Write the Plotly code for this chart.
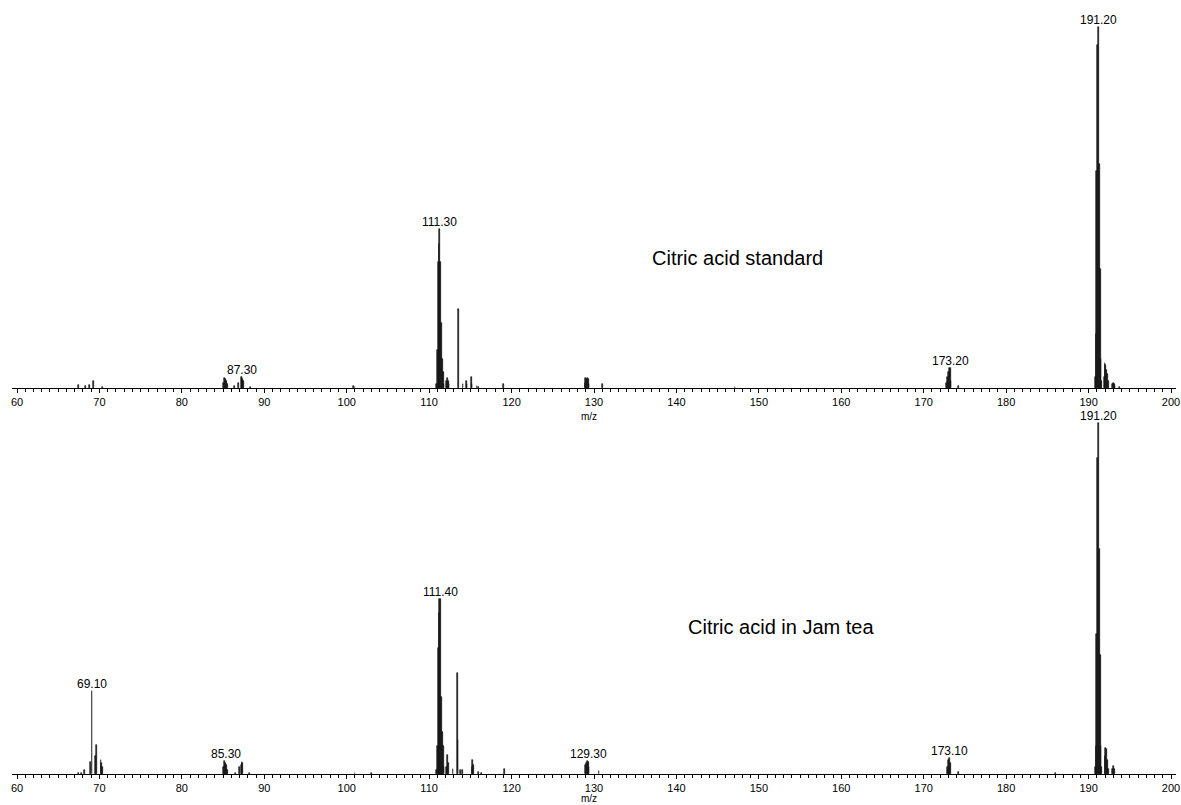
import plotly.graph_objects as go

# ---------------- data ----------------
std_mz = [67.5, 68.3, 68.8, 69.3, 70.4,
          85.1, 85.2, 85.3, 85.4, 85.5, 86.4, 86.9, 87.2, 87.3, 87.4, 87.5, 88.3,
          100.8, 101.0,
          110.9, 111.0, 111.1, 111.2, 111.3, 111.4, 111.5, 111.6, 111.7, 111.8,
          112.1, 112.2, 112.3, 112.4, 113.6,
          114.1, 114.5, 114.6, 115.1, 115.2, 115.8, 116.0, 119.0,
          128.9, 129.0, 129.1, 129.2, 129.3, 129.4, 131.0, 147.1,
          172.8, 172.9, 173.0, 173.1, 173.2, 173.3, 174.2,
          190.8, 190.9, 191.0, 191.1, 191.2, 191.3, 191.4, 191.5, 191.6,
          191.9, 192.0, 192.1, 192.2, 192.3, 192.4, 192.9, 193.0, 193.1, 193.2, 193.8]
std_int = [0.8, 0.6, 0.8, 2.0, 0.3,
           1.5, 2.8, 2.5, 2.0, 1.0, 0.5, 1.4, 3.0, 3.1, 2.5, 2.0, 0.4,
           0.5, 0.4,
           1.0, 10.5, 35, 40, 44, 35, 18, 8, 4.4, 1.0,
           2.0, 2.8, 2.0, 1.0, 22,
           1.0, 2.0, 1.0, 3.0, 1.0, 0.5, 0.4, 1.0,
           1.5, 2.8, 2.5, 2.8, 2.5, 1.0, 1.0, 0.4,
           1.5, 3.0, 4.5, 5.5, 5.5, 2.0, 0.6,
           3, 15, 60, 95, 100, 62, 33, 8, 2,
           3, 7, 6.5, 5, 4, 2, 1, 1.4, 1, 0.5, 0.3]
std_labels = [87.3, 111.3, 173.2, 191.2]

jam_mz = [67.5, 67.8, 68.2, 68.9, 69.1, 69.5, 69.6, 70.2, 70.3, 70.4,
          85.1, 85.2, 85.3, 85.4, 85.5, 86.5, 87.0, 87.2, 87.3, 87.4, 88.2,
          101.0, 103.0,
          110.9, 111.0, 111.1, 111.2, 111.3, 111.4, 111.5, 111.6, 111.7, 111.8,
          112.1, 112.2, 112.3, 112.9, 113.4, 113.5, 113.8, 114.0,
          115.2, 115.3, 115.4, 116.0, 116.4, 119.1,
          129.0, 129.1, 129.2, 129.3, 129.4, 130.6,
          172.9, 173.0, 173.1, 173.2, 174.2, 186.0,
          190.8, 190.9, 191.0, 191.1, 191.2, 191.3, 191.4, 191.5, 191.6,
          192.0, 192.1, 192.2, 192.3, 192.4, 192.9, 193.0, 193.1]
jam_int = [0.4, 0.4, 1.1, 3.4, 23.6, 5.0, 8.3, 4.0, 3.0, 2.0,
           2.0, 3.7, 3.2, 2.5, 1.2, 0.3, 2.0, 2.5, 3.4, 3.0, 0.4,
           0.3, 0.3,
           1.0, 8, 36, 46, 50, 50, 22, 12, 8, 2,
           2, 5.4, 3, 1.5, 28.7, 9.7, 1.0, 1.0,
           2, 4, 2.5, 0.5, 0.4, 1.5,
           2.5, 3, 3.7, 3.5, 2, 0.8,
           2, 4, 4.5, 3, 0.5, 0.3,
           2, 8, 40, 90, 100, 64, 34, 8, 2,
           5, 7.4, 7, 4, 1.5, 1.5, 2.3, 1.5]
jam_labels = [69.1, 85.3, 111.4, 129.3, 173.1, 191.2]

panel_titles = ["Citric acid standard", "Citric acid in Jam tea"]

# ---------------- figure ----------------
FONT = "Arial, Liberation Sans, sans-serif"
W, H = 1181, 805
ink = "#111111"

fig = go.Figure()
fig.add_trace(go.Bar(x=std_mz, y=std_int, width=0.1, xaxis="x", yaxis="y",
                     marker=dict(color=ink, line=dict(width=0.6, color=ink)),
                     showlegend=False, hoverinfo="x+y"))
fig.add_trace(go.Bar(x=jam_mz, y=jam_int, width=0.1, xaxis="x2", yaxis="y2",
                     marker=dict(color=ink, line=dict(width=0.6, color=ink)),
                     showlegend=False, hoverinfo="x+y"))

xcommon = dict(range=[59.393, 200.607], showline=True, linecolor="black", linewidth=1,
               showgrid=False, zeroline=False, ticks="outside", ticklen=4, tickwidth=1,
               tickcolor="black", tick0=60, dtick=10, ticklabeloverflow="allow",
               tickfont=dict(family=FONT, size=11, color="black"),
               minor=dict(dtick=1, ticks="outside", ticklen=3, tickcolor="black", tickwidth=1),
               fixedrange=True)
ycommon = dict(visible=False, showgrid=False, zeroline=False, fixedrange=True)

fig.update_layout(
    width=W, height=H,
    margin=dict(l=12, r=5, t=0, b=0),
    paper_bgcolor="white", plot_bgcolor="white",
    xaxis=dict(xcommon, domain=[0, 1], anchor="y"),
    yaxis=dict(ycommon, domain=[(H - 388) / H, (H - 5) / H], range=[0, 106.1]),
    xaxis2=dict(xcommon, domain=[0, 1], anchor="y2"),
    yaxis2=dict(ycommon, domain=[(H - 774) / H, 405 / H], range=[0, 106.6]),
    bargap=0, barmode="overlay",
)

def peak_height(mzs, ints, x):
    return max(v for m, v in zip(mzs, ints) if abs(m - x) <= 0.31)

ann = []
for lab in std_labels:
    ann.append(dict(x=lab, y=peak_height(std_mz, std_int, lab), xref="x", yref="y",
                    text=f"{lab:.2f}", showarrow=False, yanchor="middle", yshift=7,
                    font=dict(family=FONT, size=12, color="black")))
for lab in jam_labels:
    ann.append(dict(x=lab, y=peak_height(jam_mz, jam_int, lab), xref="x2", yref="y2",
                    text=f"{lab:.2f}", showarrow=False, yanchor="middle", yshift=7,
                    font=dict(family=FONT, size=12, color="black")))

ann.append(dict(x=147.35, y=36.1, xref="x", yref="y", text=panel_titles[0], showarrow=False,
                font=dict(family=FONT, size=20, color="black")))
ann.append(dict(x=152.7, y=42.0, xref="x2", yref="y2", text=panel_titles[1], showarrow=False,
                font=dict(family=FONT, size=20, color="black")))

ann.append(dict(x=129.4, y=(H - 416) / H, xref="x", yref="paper", text="m/z", showarrow=False,
                yanchor="middle", borderpad=0, font=dict(family=FONT, size=10, color="black")))
ann.append(dict(x=129.4, y=0, xref="paper" if False else "x2", yref="paper", text="m/z",
                showarrow=False, yanchor="bottom", borderpad=0,
                font=dict(family=FONT, size=10, color="black")))

fig.update_layout(annotations=ann)
fig.write_html("out.html")
